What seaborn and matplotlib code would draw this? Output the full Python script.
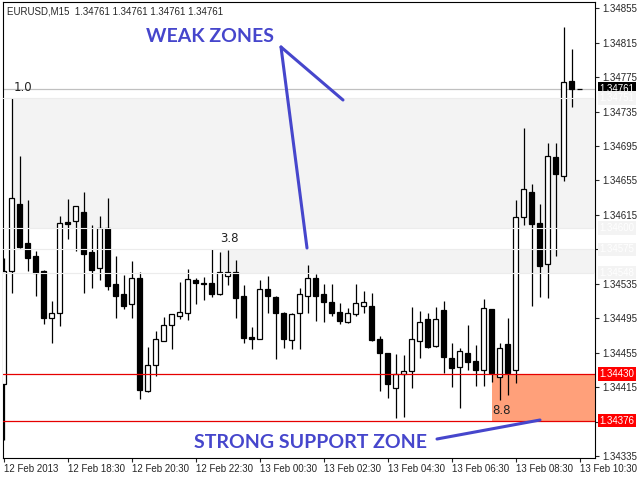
## EURUSD M15 with supply / demand zones
import numpy as np
import pandas as pd
import matplotlib
matplotlib.use('Agg')
import matplotlib.pyplot as plt
import matplotlib.transforms as mtransforms
from matplotlib.lines import Line2D
import seaborn as sns

## data (12 Feb 16:30 -> 13 Feb 10:30, one bar per 15 min)
opens = [1.34419, 1.34550, 1.34628, 1.34582, 1.34567, 1.34550, 1.34495, 1.34501, 1.34607, 1.34608,
         1.34618, 1.34572, 1.34553, 1.34600, 1.34535, 1.34523, 1.34512, 1.34542, 1.34411, 1.34441,
         1.34469, 1.34487, 1.34498, 1.34501, 1.34539, 1.34536, 1.34536, 1.34523, 1.34544, 1.34549,
         1.34521, 1.34473, 1.34471, 1.34529, 1.34520, 1.34501, 1.34470, 1.34501, 1.34521, 1.34542,
         1.34523, 1.34514, 1.34502, 1.34491, 1.34500, 1.34509, 1.34509, 1.34471, 1.34455, 1.34414,
         1.34430, 1.34434, 1.34469, 1.34494, 1.34463, 1.34505, 1.34449, 1.34438, 1.34455, 1.34445,
         1.34435, 1.34506, 1.34427, 1.34465, 1.34435, 1.34613, 1.34642, 1.34606, 1.34558, 1.34682,
         1.34660, 1.34771, 1.34761]
highs = [1.34565, 1.34751, 1.34683, 1.34632, 1.34573, 1.34551, 1.34515, 1.34614, 1.34634, 1.34625,
         1.34642, 1.34603, 1.34614, 1.34635, 1.34567, 1.34545, 1.34561, 1.34549, 1.34462, 1.34480,
         1.34496, 1.34500, 1.34537, 1.34552, 1.34542, 1.34543, 1.34575, 1.34572, 1.34574, 1.34563,
         1.34534, 1.34485, 1.34539, 1.34544, 1.34521, 1.34502, 1.34501, 1.34530, 1.34557, 1.34546,
         1.34535, 1.34535, 1.34513, 1.34507, 1.34535, 1.34527, 1.34524, 1.34474, 1.34455, 1.34453,
         1.34452, 1.34508, 1.34503, 1.34501, 1.34508, 1.34515, 1.34466, 1.34460, 1.34487, 1.34464,
         1.34517, 1.34506, 1.34466, 1.34495, 1.34632, 1.34716, 1.34651, 1.34628, 1.34699, 1.34699,
         1.34833, 1.34808, 1.34761]
lows = [1.34354, 1.34524, 1.34577, 1.34550, 1.34521, 1.34488, 1.34466, 1.34486, 1.34587, 1.34573,
        1.34524, 1.34530, 1.34539, 1.34528, 1.34495, 1.34506, 1.34495, 1.34401, 1.34409, 1.34428,
        1.34469, 1.34459, 1.34494, 1.34493, 1.34512, 1.34516, 1.34520, 1.34522, 1.34534, 1.34495,
        1.34466, 1.34459, 1.34471, 1.34501, 1.34448, 1.34460, 1.34459, 1.34459, 1.34501, 1.34492,
        1.34491, 1.34498, 1.34488, 1.34489, 1.34498, 1.34501, 1.34469, 1.34411, 1.34402, 1.34379,
        1.34380, 1.34414, 1.34449, 1.34460, 1.34462, 1.34431, 1.34415, 1.34391, 1.34435, 1.34416,
        1.34416, 1.34421, 1.34400, 1.34406, 1.34420, 1.34603, 1.34509, 1.34520, 1.34519, 1.34567,
        1.34654, 1.34740, 1.34761]
closes = [1.34550, 1.34635, 1.34578, 1.34565, 1.34548, 1.34495, 1.34501, 1.34606, 1.34604, 1.34625,
          1.34570, 1.34551, 1.34600, 1.34532, 1.34521, 1.34509, 1.34542, 1.34412, 1.34441, 1.34471,
          1.34487, 1.34500, 1.34502, 1.34541, 1.34536, 1.34535, 1.34523, 1.34549, 1.34549, 1.34519,
          1.34472, 1.34471, 1.34529, 1.34521, 1.34501, 1.34471, 1.34500, 1.34523, 1.34542, 1.34521,
          1.34514, 1.34501, 1.34492, 1.34501, 1.34513, 1.34514, 1.34470, 1.34455, 1.34419, 1.34430,
          1.34434, 1.34471, 1.34491, 1.34462, 1.34494, 1.34450, 1.34437, 1.34457, 1.34444, 1.34435,
          1.34507, 1.34431, 1.34460, 1.34431, 1.34613, 1.34645, 1.34604, 1.34556, 1.34683, 1.34663,
          1.34769, 1.34761, 1.34761]

time_labels = ['12 Feb 2013', '12 Feb 18:30', '12 Feb 20:30', '12 Feb 22:30', '13 Feb 00:30',
               '13 Feb 02:30', '13 Feb 04:30', '13 Feb 06:30', '13 Feb 08:30', '13 Feb 10:30']
price_ticks = [1.34855, 1.34815, 1.34775, 1.34735, 1.34695, 1.34655, 1.34615, 1.34575,
               1.34535, 1.34495, 1.34455, 1.34415, 1.34375, 1.34335]

bid = 1.34761
weak_lo = [1.34600, 1.34548]
weak_hi = [1.34751, 1.34575]
weak_start = [1, 27]
weak_strength = ['1.0', '3.8']
strong_lo = 1.34376
strong_hi = 1.34430
strong_start = 61
strong_strength = '8.8'

## prepare the data
data = pd.DataFrame({'open': opens, 'high': highs, 'low': lows, 'close': closes})
data['bar'] = np.arange(len(data))
data['up'] = data['close'] >= data['open']
data['bottom'] = data[['open', 'close']].min(axis=1)
data['height'] = (data['close'] - data['open']).abs().clip(lower=0.000004)

## style
sns.set_style('white')
plt.rcParams['font.family'] = ['Liberation Sans', 'DejaVu Sans']

fig = plt.figure(figsize=(6.4, 4.8), dpi=100)
ax = fig.add_axes([3 / 640, 22 / 480, 592 / 640, 456 / 480])
xmax = 73.9

# weak zones (grey) and strong zone (salmon)
for lo, hi, start in zip(weak_lo, weak_hi, weak_start):
    ax.fill_between([start, xmax], lo, hi, color='#f3f3f3', lw=0, zorder=0)
ax.fill_between([strong_start, xmax], strong_lo, strong_hi, color='#ffa07a', lw=0, zorder=0)

# bid line
ax.axhline(bid, color='#c0c0c0', lw=0.9, zorder=1)

# candles
ax.vlines(data['bar'], data['low'], data['high'], color='black', lw=0.9, zorder=2)
ax.bar(data['bar'], data['height'], bottom=data['bottom'], width=0.6,
       color=np.where(data['up'], 'white', 'black'), edgecolor='black', lw=0.9, zorder=3)

# zone edges
for level in weak_lo + weak_hi:
    ax.axhline(level, color='#ececec', lw=0.8, zorder=4)
for level in [strong_lo, strong_hi]:
    ax.axhline(level, color='#e60000', lw=0.9, zorder=5)

# zone strength
ax.annotate(weak_strength[0], (weak_start[0], weak_hi[0]), xytext=(1, 3), textcoords='offset points',
            fontsize=8.5, color='#222222', va='bottom', ha='left', family='DejaVu Sans', zorder=6)
ax.annotate(weak_strength[1], (weak_start[1], weak_hi[1]), xytext=(0, 3), textcoords='offset points',
            fontsize=8.5, color='#222222', va='bottom', ha='left', family='DejaVu Sans', zorder=6)
ax.annotate(strong_strength, (strong_start, strong_lo), xytext=(0, 3), textcoords='offset points',
            fontsize=8.5, color='#222222', va='bottom', ha='left', family='DejaVu Sans', zorder=6)

## axes
ax.set_xlim(-0.1, xmax)
ax.set_ylim(1.343327, 1.348623)
ax.set_xticks(np.arange(len(time_labels)) * 8)
ax.set_xticklabels(time_labels, ha='left')
ax.yaxis.tick_right()
ax.set_yticks(price_ticks)
ax.set_yticklabels(['' if p in (1.34575, 1.34375) else f'{p:.5f}' for p in price_ticks])
ax.tick_params(axis='x', bottom=True, direction='out', length=3, width=0.8, pad=1, labelsize=7)
ax.tick_params(axis='y', right=True, left=False, direction='out', length=3, width=0.8, pad=2, labelsize=7)
for s in ax.spines.values():
    s.set_color('black')
    s.set_linewidth(0.8)

# price boxes on the scale
trans = mtransforms.blended_transform_factory(ax.transAxes, ax.transData)
boxes = [(bid, 'black', 'white'), (weak_hi[0], '#f3f3f3', 'white'), (weak_lo[0], '#f3f3f3', 'white'),
         (weak_hi[1], '#f3f3f3', 'white'), (weak_lo[1], '#f3f3f3', 'white'),
         (strong_hi, '#ff0000', 'white'), (strong_lo, '#ff0000', 'white')]
for price, bg, fg in boxes:
    ax.text(1.008, price, f'{price:.5f}', transform=trans, fontsize=7, color=fg, va='center', ha='left',
            bbox=dict(boxstyle='square,pad=0.18', fc=bg, ec='none'), clip_on=False, zorder=7)

## header and comments
fig.text(7 / 640, 1 - 11 / 480, f'EURUSD,M15  {bid:.5f} {bid:.5f} {bid:.5f} {bid:.5f}',
         fontsize=7, va='center', ha='left')

blue = '#4646cc'
fig.text(210 / 640, 1 - 37 / 480, 'WEAK ZONES', fontsize=14, fontweight='bold', color=blue,
         ha='center', va='center', family='Lato')
fig.text(311 / 640, 1 - 443 / 480, 'STRONG SUPPORT ZONE', fontsize=14, fontweight='bold', color=blue,
         ha='center', va='center', family='Lato')
for (x1, y1), (x2, y2) in [((281, 47), (343, 100)), ((281, 47), (307, 248)), ((437, 439), (540, 420))]:
    fig.add_artist(Line2D([x1 / 640, x2 / 640], [1 - y1 / 480, 1 - y2 / 480], lw=2.2, color=blue))

fig.savefig('out.png', dpi=100)
